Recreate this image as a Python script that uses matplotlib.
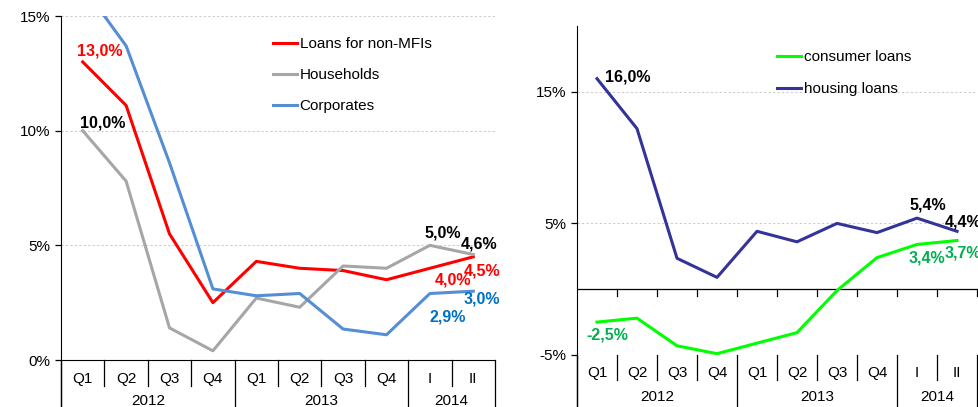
import matplotlib.pyplot as plt
from matplotlib.lines import Line2D
import matplotlib.transforms as mtransforms

plt.rcParams['font.family'] = ['Liberation Sans', 'DejaVu Sans']

quarters = ['Q1', 'Q2', 'Q3', 'Q4', 'Q1', 'Q2', 'Q3', 'Q4', 'I', 'II']
years = ['2012', '2013', '2014']
year_bounds = [-0.5, 3.5, 7.5, 9.5]

# left panel
loans_non_mfi = [13.0, 11.1, 5.5, 2.5, 4.3, 4.0, 3.9, 3.5, 4.0, 4.5]
households = [10.0, 7.8, 1.4, 0.4, 2.7, 2.3, 4.1, 4.0, 5.0, 4.6]
corporates = [16.3, 13.7, 8.6, 3.1, 2.8, 2.9, 1.35, 1.1, 2.9, 3.0]

# right panel
consumer_loans = [-2.5, -2.2, -4.3, -4.9, -4.1, -3.3, -0.1, 2.4, 3.4, 3.7]
housing_loans = [16.0, 12.2, 2.35, 0.9, 4.4, 3.6, 5.0, 4.3, 5.4, 4.4]

W, H = 979, 407
fig = plt.figure(figsize=(W / 100, H / 100), dpi=100)

def px_axes(x0, y0, x1, y1):
    # pixel box (top-left origin) -> figure fraction
    return fig.add_axes([x0 / W, (H - y1) / H, (x1 - x0) / W, (y1 - y0) / H])

ax1 = px_axes(61, 16, 495, 360)
ax2 = px_axes(577, 26, 977, 355)
x = list(range(len(quarters)))

def category_table(ax, h_ax, q_len, q_y, yr_y):
    tr = mtransforms.blended_transform_factory(ax.transData, ax.transAxes)
    for i, q in enumerate(quarters):
        ax.text(i, -q_y / h_ax, q, transform=tr, ha='center', va='center', fontsize=11)
    for b in [k - 0.5 for k in range(11)]:
        if b in year_bounds:
            ln = Line2D([b, b], [0, -60 / h_ax], transform=tr, color='black', lw=0.9, clip_on=False)
        else:
            ln = Line2D([b, b], [0, -q_len / h_ax], transform=tr, color='black', lw=0.9, clip_on=False)
        ax.add_line(ln)
    for j, yr in enumerate(years):
        xc = (year_bounds[j] + year_bounds[j + 1]) / 2
        ax.text(xc, -yr_y / h_ax, yr, transform=tr, ha='center', va='center', fontsize=11)

def label(ax, xi, yi, txt, dx, dy, color):
    ax.annotate(txt, (xi, yi), xytext=(dx, -dy), textcoords='offset pixels',
                ha='center', va='center', fontsize=11.5, fontweight='bold', color=color,
                annotation_clip=False)

grid_col = '#CCCCCC'

# ---- left chart
ax1.plot(x, loans_non_mfi, color='#FF0000', lw=2.2, label='Loans for non-MFIs')
ax1.plot(x, households, color='#A6A6A6', lw=2.2, label='Households')
ax1.plot(x, corporates, color='#558ED5', lw=2.2, label='Corporates')
ax1.set_xlim(-0.5, 9.5)
ax1.set_ylim(0, 15)
ax1.set_yticks([0, 5, 10, 15])
ax1.set_yticklabels(['0%', '5%', '10%', '15%'], fontsize=11)
ax1.set_xticks([])
for v in [5, 10, 15]:
    ax1.axhline(v, color=grid_col, lw=0.8, ls=(0, (2, 2)), zorder=0)
ax1.spines[['top', 'right']].set_visible(False)
ax1.spines['left'].set_bounds(0, 15)
ax1.tick_params(axis='y', length=4, width=0.9, pad=4)
ax1.add_line(Line2D([-0.5, -0.5], [0, -60 / 344], transform=mtransforms.blended_transform_factory(ax1.transData, ax1.transAxes),
                    color='black', lw=0.9, clip_on=False))
category_table(ax1, 344, 26, 19, 41)

label(ax1, 0, 13.0, '13,0%', 17, -11, '#FF0000')
label(ax1, 0, 10.0, '10,0%', 20, -8, 'black')
label(ax1, 8, 5.0, '5,0%', 13, -12, 'black')
label(ax1, 9, 4.6, '4,6%', 6, -11, 'black')
label(ax1, 8, 4.0, '4,0%', 23, 12, '#FF0000')
label(ax1, 9, 4.5, '4,5%', 9, 14, '#FF0000')
label(ax1, 9, 3.0, '3,0%', 9, 8, '#0070C0')
label(ax1, 8, 2.9, '2,9%', 18, 24, '#0070C0')

ax1.legend(loc='upper left', bbox_to_anchor=(273 / W, 1 - 37 / H), bbox_transform=fig.transFigure,
           frameon=False, fontsize=11, handlelength=1.55, handletextpad=0.2, labelspacing=1.12,
           borderpad=0, borderaxespad=0)

# ---- right chart
ax2.plot(x, consumer_loans, color='#00FF00', lw=2.2, label='consumer loans')
ax2.plot(x, housing_loans, color='#333399', lw=2.2, label='housing loans')
ax2.set_xlim(-0.5, 9.5)
ax2.set_ylim(-5, 20)
ax2.set_yticks([-5, 5, 15])
ax2.set_yticklabels(['-5%', '5%', '15%'], fontsize=11)
ax2.set_xticks([])
for v in [5, 15]:
    ax2.axhline(v, color=grid_col, lw=0.8, ls=(0, (2, 2)), zorder=0)
ax2.axhline(0, color='black', lw=0.9, zorder=1)
ax2.spines[['top', 'right', 'bottom']].set_visible(False)
ax2.tick_params(axis='y', length=4, width=0.9, pad=4)
tr2 = mtransforms.blended_transform_factory(ax2.transData, ax2.transAxes)
zero_ax = 5 / 25
for b in [k - 0.5 for k in range(1, 11)]:
    ax2.add_line(Line2D([b, b], [zero_ax, zero_ax - 7 / 329], transform=tr2, color='black', lw=0.9, clip_on=False))
ax2.add_line(Line2D([-0.5, -0.5], [0, -60 / 329], transform=tr2, color='black', lw=0.9, clip_on=False))
category_table(ax2, 329, 25, 18, 42)

label(ax2, 0, 16.0, '16,0%', 31, -2, 'black')
label(ax2, 8, 5.4, '5,4%', 11, -13, 'black')
label(ax2, 9, 4.4, '4,4%', 6, -9, 'black')
label(ax2, 8, 3.4, '3,4%', 10, 14, '#00B050')
label(ax2, 9, 3.7, '3,7%', 6, 12, '#00B050')
label(ax2, 0, -2.5, '-2,5%', 10, 13, '#00B050')

ax2.legend(loc='upper left', bbox_to_anchor=(777 / W, 1 - 50 / H), bbox_transform=fig.transFigure,
           frameon=False, fontsize=11, handlelength=1.55, handletextpad=0.2, labelspacing=1.18,
           borderpad=0, borderaxespad=0)

fig.savefig('out.png', dpi=100)
